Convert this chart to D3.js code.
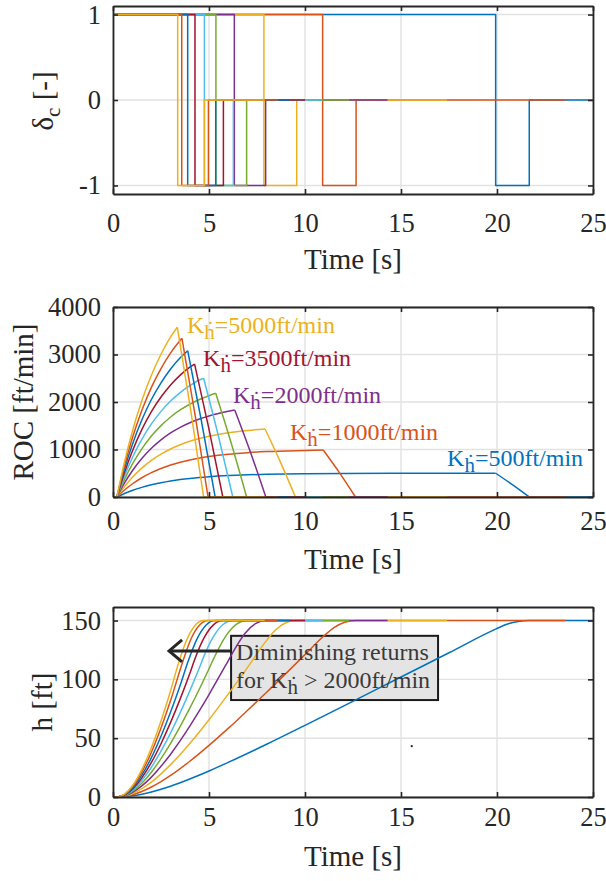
<!DOCTYPE html>
<html>
<head>
<meta charset="utf-8">
<script src="https://cdn.jsdelivr.net/npm/d3@7"></script>
<style>
  body { margin: 0; background: #ffffff; }
  svg text { font-family: "Liberation Serif", "Times New Roman", "DejaVu Serif", serif; }
</style>
</head>
<body>
<svg id="fig" width="606" height="881"></svg>
<script>
// ---- data -------------------------------------------------------------
const gains = [500, 1000, 1500, 2000, 2500, 3000, 3500, 4000, 4500, 5000];
const seriesColors = ["#0072BD", "#D95319", "#EDB120", "#7E2F8E", "#77AC30",
                      "#4DBEEE", "#A2142F", "#0072BD", "#D95319", "#EDB120"];

const timeTicks = [0, 5, 10, 15, 20, 25];
const deltaTicks = [-1, 0, 1];
const rocTicks = [0, 1000, 2000, 3000, 4000];
const heightTicks = [0, 50, 100, 150];

// command switching times [s] and end of each run [s]
const switchToNegative = [19.93, 10.92, 7.86, 6.32, 5.36, 4.76, 4.27, 3.89, 3.58, 3.37];
const switchToZero     = [21.68, 12.66, 9.57, 7.95, 6.96, 6.27, 5.75, 5.35, 4.97, 4.76];
const runEnd           = [25, 23.6, 17.4, 14.3, 12.3, 10.9, 10.0, 9.2, 8.6, 7.9];

// rate of climb [time s, ft/min]
const roc500  = [[0,0],[0.2,0],[0.6,74],[1,137],[1.5,203],[2,257],[2.5,301],[3,337],[3.5,367],[4,391],[4.5,411],[5,427],[6,451],[7,467],[8,478],[10,490],[12,496],[15,499],[19.93,500],[20.8,260],[21.68,0],[25,0]];
const roc1000 = [[0,0],[0.2,0],[0.6,148],[1,274],[1.5,405],[2,513],[2.5,601],[3,674],[3.5,733],[4,781],[4.5,821],[5,853],[6,902],[7,934],[8,956],[10,980],[10.95,989],[11.79,514],[12.63,0],[23.6,0]];
const roc1500 = [[0,0],[0.2,0],[0.6,222],[1,411],[1.5,608],[2,770],[2.5,902],[3,1011],[3.5,1100],[4,1172],[4.5,1232],[5,1280],[6,1353],[7,1401],[7.92,1432],[8.71,745],[9.5,0],[17.4,0]];
const roc2000 = [[0,0],[0.2,0],[0.6,296],[1,548],[1.5,810],[2,1026],[2.5,1202],[3,1348],[3.5,1466],[4,1562],[4.5,1642],[5,1706],[6,1804],[6.34,1832],[7.15,953],[7.96,0],[14.3,0]];
const roc2500 = [[0,0],[0.2,0],[0.6,370],[1,685],[1.5,1013],[2,1283],[2.5,1503],[3,1685],[3.5,1833],[4,1953],[4.5,2053],[5,2133],[5.35,2183],[6.155,1135],[6.96,0],[12.3,0]];
const roc3000 = [[0,0],[0.2,0],[0.6,444],[1,822],[1.5,1215],[2,1539],[2.5,1803],[3,2022],[3.5,2199],[4,2343],[4.5,2463],[4.72,2499],[5.48,1300],[6.24,0],[10.9,0]];
const roc3500 = [[0,0],[0.2,0],[0.6,518],[1,959],[1.5,1418],[2,1796],[2.5,2104],[3,2359],[3.5,2566],[4,2734],[4.25,2800],[4.985,1456],[5.72,0],[10.0,0]];
const roc4000 = [[0,0],[0.2,0],[0.6,592],[1,1096],[1.5,1620],[2,2052],[2.5,2404],[3,2696],[3.5,2932],[3.89,3080],[4.605,1600],[5.32,0],[9.2,0]];
const roc4500 = [[0,0],[0.2,0],[0.6,666],[1,1233],[1.5,1823],[2,2309],[2.5,2705],[3,3033],[3.59,3341],[4.27,1737],[4.95,0],[8.6,0]];
const roc5000 = [[0,0],[0.2,0],[0.6,740],[1,1370],[1.5,2025],[2,2565],[2.5,3005],[3,3370],[3.35,3573],[4.035,1860],[4.72,0],[7.9,0]];

// altitude [time s, ft]
const h500  = [[0,0],[0.2,0],[0.6,0.25],[1,1.0],[1.5,2.4],[2,4.3],[2.5,6.6],[3,9.2],[4,15.3],[5,22.1],[6,29.4],[8,44.8],[10,60.9],[12,77.2],[15,102.0],[17.5,122.6],[19.93,142.7],[20.51,146.8],[21.1,149.2],[21.68,150],[25,150]];
const h1000 = [[0,0],[0.2,0],[0.6,0.5],[1,1.9],[1.5,4.7],[2,8.5],[2.5,13.1],[3,18.3],[4,30.4],[5,43.9],[6,58.3],[7,73.5],[8,89.0],[10,121.0],[10.95,136.4],[11.51,144.0],[12.07,148.5],[12.63,150],[23.6,150]];
const h1500 = [[0,0],[0.2,0],[0.6,0.7],[1,2.8],[1.5,7.1],[2,12.7],[2.5,19.7],[3,27.5],[4,45.5],[5,65.7],[6,87.4],[7,110.0],[7.92,131.4],[8.45,141.7],[8.97,147.9],[9.5,150],[17.4,150]];
const h2000 = [[0,0],[0.2,0],[0.6,1.0],[1,3.8],[1.5,9.4],[2,16.9],[2.5,26.1],[3,36.4],[3.5,47.9],[4,60.3],[4.5,73.4],[5,87.1],[6,115.8],[6.34,125.7],[6.88,139.2],[7.42,147.3],[7.96,150],[14.3,150]];
const h2500 = [[0,0],[0.2,0],[0.6,1.2],[1,4.7],[1.5,11.7],[2,21.1],[2.5,32.6],[3,45.6],[3.5,60.0],[4,75.5],[4.5,91.8],[5,109.0],[5.35,121.3],[5.89,137.2],[6.42,146.8],[6.96,150],[12.3,150]];
const h3000 = [[0,0],[0.2,0],[0.6,1.5],[1,5.6],[1.5,14.0],[2,25.3],[2.5,39.0],[3,54.5],[3.5,71.7],[4,90.2],[4.5,109.8],[4.72,119.1],[5.23,136.3],[5.73,146.6],[6.24,150],[10.9,150]];
const h3500 = [[0,0],[0.2,0],[0.6,1.7],[1,6.5],[1.5,16.3],[2,29.4],[2.5,45.3],[3,63.4],[3.5,83.4],[4,105.0],[4.25,116.6],[4.74,135.2],[5.23,146.3],[5.72,150],[10.0,150]];
const h4000 = [[0,0],[0.2,0],[0.6,1.9],[1,7.5],[1.5,18.6],[2,33.5],[2.5,51.7],[3,72.2],[3.5,95.0],[3.89,114.3],[4.37,134.2],[4.84,146.0],[5.32,150],[9.2,150]];
const h4500 = [[0,0],[0.2,0],[0.6,2.2],[1,8.5],[1.5,21.2],[2,38.1],[2.5,58.7],[3,82.0],[3.59,112.9],[4.04,133.5],[4.5,145.9],[4.95,150],[8.6,150]];
const h5000 = [[0,0],[0.2,0],[0.6,2.4],[1,9.3],[1.5,23.3],[2,41.9],[2.5,64.6],[3,90.3],[3.35,110.4],[3.81,132.4],[4.26,145.6],[4.72,150],[7.9,150]];

const rocSeries = [roc500, roc1000, roc1500, roc2000, roc2500, roc3000, roc3500, roc4000, roc4500, roc5000];
const heightSeries = [h500, h1000, h1500, h2000, h2500, h3000, h3500, h4000, h4500, h5000];

// gains called out next to the ROC curves
const labelledGains = [5000, 3500, 2000, 1000, 500];

// ---- drawing ----------------------------------------------------------
const svg = d3.select("#fig");
const AXIS_COLOR = "#262626";
const GRID_COLOR = "#e2e2e2";
const TICK_FS = 26.5, LABEL_FS = 29, NOTE_FS = 24, SUB_FS = 21;

const x = d3.scaleLinear().domain([0, 25]).range([113, 593]);

const yDelta = d3.scaleLinear().domain([-1.1, 1.1]).range([194, 6]);
const yRoc = d3.scaleLinear().domain([0, 4000]).range([497, 307]);
const yH = d3.scaleLinear().domain([0, 161.5]).range([797, 607]);

function grid(g, y, yTicks) {
  const [y0, y1] = y.range();
  g.append("g").selectAll("line").data(timeTicks).join("line")
    .attr("x1", d => x(d)).attr("x2", d => x(d))
    .attr("y1", y0).attr("y2", y1)
    .attr("stroke", GRID_COLOR).attr("stroke-width", 1.4);
  g.append("g").selectAll("line").data(yTicks).join("line")
    .attr("x1", x.range()[0]).attr("x2", x.range()[1])
    .attr("y1", d => y(d)).attr("y2", d => y(d))
    .attr("stroke", GRID_COLOR).attr("stroke-width", 1.4);
}

function frame(g, y, yTicks, xTickPad, xLabelY, yLabel) {
  const [yb, yt] = y.range();
  const fmt = d => String(d);
  const style = sel => {
    sel.attr("font-size", TICK_FS).attr("font-family", "Liberation Serif");
    sel.select(".domain").attr("stroke", AXIS_COLOR).attr("stroke-width", 1.8);
    sel.selectAll(".tick line").attr("stroke", AXIS_COLOR).attr("stroke-width", 1.6);
    sel.selectAll(".tick text").attr("fill", AXIS_COLOR);
  };
  g.append("g").attr("transform", `translate(0,${yb})`)
    .call(d3.axisBottom(x).tickValues(timeTicks).tickFormat(fmt)
      .tickSizeInner(-5).tickSizeOuter(0).tickPadding(xTickPad))
    .call(style);
  g.append("g").attr("transform", `translate(0,${yt})`)
    .call(d3.axisTop(x).tickValues(timeTicks).tickFormat("")
      .tickSizeInner(-5).tickSizeOuter(0))
    .call(style);
  g.append("g").attr("transform", `translate(${x.range()[0]},0)`)
    .call(d3.axisLeft(y).tickValues(yTicks).tickFormat(fmt)
      .tickSizeInner(-5).tickSizeOuter(0).tickPadding(12))
    .call(style);
  g.append("g").attr("transform", `translate(${x.range()[1]},0)`)
    .call(d3.axisRight(y).tickValues(yTicks).tickFormat("")
      .tickSizeInner(-5).tickSizeOuter(0))
    .call(style);

  g.append("text")
    .attr("x", (x.range()[0] + x.range()[1]) / 2).attr("y", xLabelY)
    .attr("text-anchor", "middle").attr("font-size", LABEL_FS)
    .attr("fill", AXIS_COLOR).text("Time [s]");

  const yl = g.append("text")
    .attr("transform", `translate(${yLabel.x},${(yb + yt) / 2 + yLabel.dy}) rotate(-90)`)
    .attr("text-anchor", "middle").attr("font-size", LABEL_FS)
    .attr("fill", AXIS_COLOR);
  yLabel.build(yl);
}

function drawLine(g, pts, y, color, curve) {
  g.append("path")
    .datum(pts)
    .attr("d", d3.line().x(d => x(d[0])).y(d => y(d[1])).curve(curve))
    .attr("fill", "none").attr("stroke", color)
    .attr("stroke-width", 1.5).attr("stroke-linejoin", "round");
}

// ---- panel 1: command -------------------------------------------------
{
  const g = svg.append("g");
  grid(g, yDelta, deltaTicks);
  gains.forEach((k, i) => {
    const t1 = switchToNegative[i], t2 = switchToZero[i];
    const pts = [[0, 1], [t1, 1], [t1, -1], [t2, -1], [t2, 0], [runEnd[i], 0]];
    drawLine(g, pts, yDelta, seriesColors[i], d3.curveLinear);
  });
  frame(g, yDelta, deltaTicks, 19, 269, {
    x: 53, dy: 1,
    build: t => {
      t.append("tspan").text("δ");
      t.append("tspan").attr("font-size", SUB_FS).attr("dy", 7).text("c");
      t.append("tspan").attr("dy", -7).text(" [-]");
    }
  });
}

// ---- panel 2: rate of climb -------------------------------------------
{
  const g = svg.append("g");
  grid(g, yRoc, rocTicks);
  rocSeries.forEach((pts, i) => {
    // sharp corners at rise start, peak and touchdown at zero
    const start = 1;
    let peak = 0;
    pts.forEach((p, j) => { if (p[1] > pts[peak][1]) peak = j; });
    let zero = peak + 1;
    while (pts[zero][1] !== 0) zero++;
    drawLine(g, pts.slice(0, start + 1), yRoc, seriesColors[i], d3.curveLinear);
    drawLine(g, pts.slice(start, peak + 1), yRoc, seriesColors[i], d3.curveMonotoneX);
    drawLine(g, pts.slice(peak, zero + 1), yRoc, seriesColors[i], d3.curveMonotoneX);
    drawLine(g, pts.slice(zero), yRoc, seriesColors[i], d3.curveLinear);
  });

  // gain call-outs
  const spots = { 5000: [3.85, 3453], 3500: [4.69, 2758], 2000: [6.25, 1979], 1000: [9.22, 1200], 500: [17.4, 653] };
  labelledGains.forEach(k => {
    const i = gains.indexOf(k);
    const [tx, ty] = spots[k];
    const t = g.append("text").attr("x", x(tx)).attr("y", yRoc(ty))
      .attr("font-size", NOTE_FS).attr("fill", seriesColors[i]);
    t.append("tspan").text("K");
    t.append("tspan").attr("font-size", SUB_FS).attr("dy", 6).text("ḣ");
    t.append("tspan").attr("dy", -6).text(`=${k}ft/min`);
  });

  frame(g, yRoc, rocTicks, 14, 569, {
    x: 33, dy: 0,
    build: t => t.text("ROC [ft/min]")
  });
}

// ---- panel 3: altitude ------------------------------------------------
{
  const g = svg.append("g");
  grid(g, yH, heightTicks);

  // note box sits above the grid, below the curves
  const bx0 = x(6.15), bx1 = x(16.93), by0 = yH(137), by1 = yH(82.4);
  g.append("rect").attr("x", bx0).attr("y", by0)
    .attr("width", bx1 - bx0).attr("height", by1 - by0)
    .attr("fill", "#e4e4e4").attr("stroke", "#1a1a1a").attr("stroke-width", 2);

  heightSeries.forEach((pts, i) => {
    drawLine(g, pts, yH, seriesColors[i], d3.curveMonotoneX);
  });

  const note = g.append("g").attr("font-size", NOTE_FS).attr("fill", "#3a3a3a");
  note.append("text").attr("x", bx0 + 5).attr("y", by0 + 24).text("Diminishing returns");
  const l2 = note.append("text").attr("x", bx0 + 5).attr("y", by0 + 52);
  l2.append("tspan").text("for K");
  l2.append("tspan").attr("font-size", SUB_FS).attr("dy", 6).text("ḣ");
  l2.append("tspan").attr("dy", -6).text(" > 2000ft/min");

  // arrow pointing to the fast-gain cluster
  const ay = yH(124.2), ax = x(2.92);
  const arrow = g.append("g").attr("stroke", "#262626").attr("stroke-width", 3)
    .attr("fill", "none").attr("stroke-linecap", "butt");
  arrow.append("line").attr("x1", bx0).attr("x2", ax + 1).attr("y1", ay).attr("y2", ay);
  arrow.append("path").attr("d", `M${ax + 13},${ay - 11} L${ax},${ay} L${ax + 13},${ay + 11}`);

  // stray marker
  g.append("circle").attr("cx", x(15.56)).attr("cy", yH(43.2)).attr("r", 1.1).attr("fill", "#262626");

  frame(g, yH, heightTicks, 10, 866, {
    x: 52, dy: 0,
    build: t => t.text("h [ft]")
  });
}
</script>
</body>
</html>
